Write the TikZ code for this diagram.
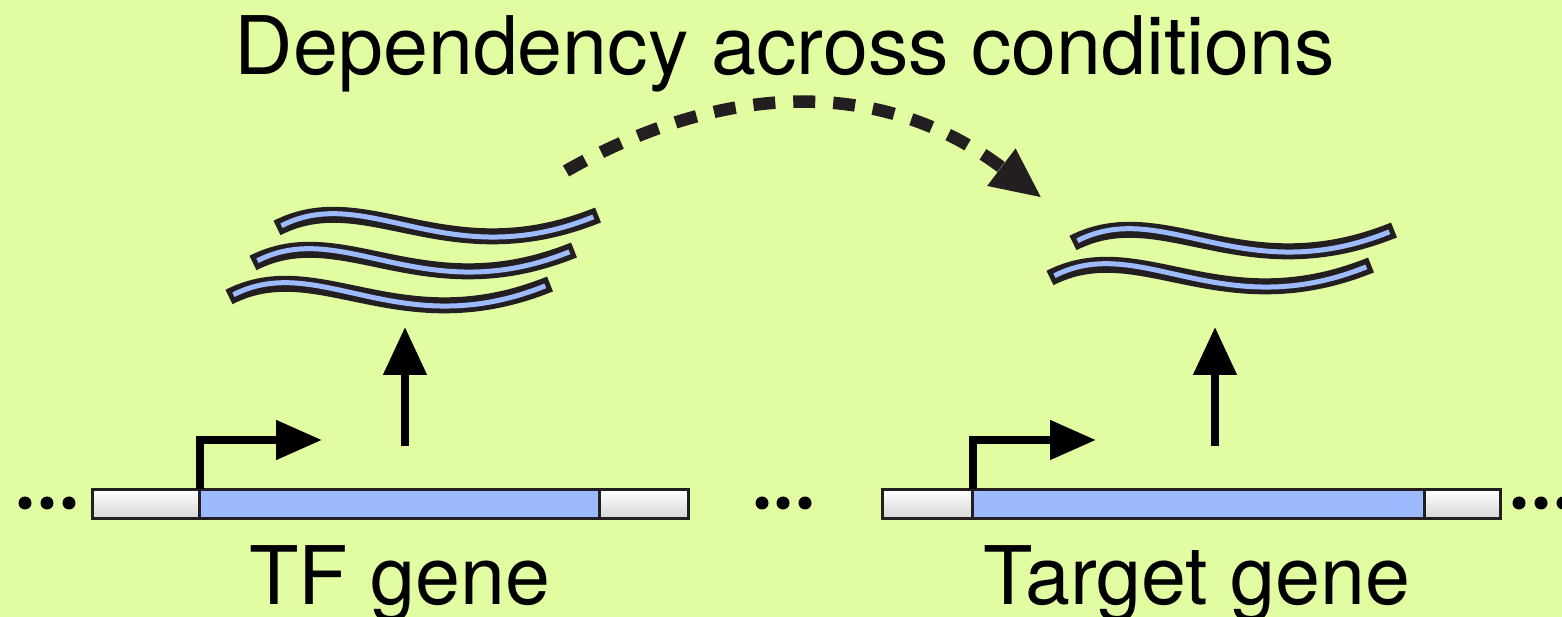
\documentclass[tikz,border=0pt]{standalone}
\usepackage{fontspec}
\setmainfont{TeX Gyre Heros}
\usetikzlibrary{positioning,arrows.meta}
\definecolor{bgcol}{RGB}{226,252,162}
\definecolor{cdscol}{RGB}{157,186,255}
\definecolor{inkcol}{RGB}{35,31,32}

\begin{document}
\begin{tikzpicture}[x=0.02cm,y=-0.02cm]
    \tikzstyle{label}=[inner sep=0pt,anchor=base,font=\fontsize{46}{50}\selectfont]
    \tikzstyle{exon}=[rectangle,draw=inkcol,line width=0.06cm,minimum height=0.58cm,inner sep=0pt,outer sep=0pt]
    \tikzstyle{utr}=[exon,top color=white,bottom color=black!16]
    \tikzstyle{cds}=[exon,fill=cdscol]
    \tikzstyle{promoter}=[line width=0.16cm,-{Triangle[length=0.92cm,width=0.76cm]}]
    \tikzstyle{expr}=[line width=0.16cm,-{Triangle[length=0.96cm,width=0.84cm]}]
    \tikzstyle{dep}=[draw=inkcol,line width=0.25cm,dash pattern=on 0.44cm off 0.36cm,
                     -{Triangle[length=1.02cm,width=0.86cm]}]
    \tikzstyle{rnaout}=[draw=inkcol,line width=0.32cm,line cap=butt]
    \tikzstyle{rnain}=[draw=cdscol,line width=0.1cm,line cap=butt,shorten <=0.1cm,shorten >=0.1cm]

    % background
    \fill[bgcol] (0,0) rectangle (1562,617);
    \useasboundingbox (0,0) rectangle (1562,617);

    \node(title) [label] at (785,75) {Dependency across conditions};

    % TF gene
    \node(tfL)  [utr,minimum width=2.16cm,anchor=west] at (92,504) {};
    \node(tfC)  [cds,minimum width=8cm,right=0pt of tfL] {};
    \node(tfR)  [utr,minimum width=1.78cm,right=0pt of tfC] {};
    \node(tfname) [label] at (400,605) {TF gene};

    % target gene
    \node(tgL)  [utr,minimum width=1.82cm,anchor=west] at (882,504) {};
    \node(tgC)  [cds,minimum width=9.04cm,right=0pt of tgL] {};
    \node(tgR)  [utr,minimum width=1.52cm,right=0pt of tgC] {};
    \node(tgname) [label] at (1197,605) {Target gene};

    % dots between and beside the genes
    \foreach \x in {25,47,69,762,783,805,1519,1541,1563}
        \fill (\x,503) circle (0.13cm);

    % transcription start sites
    \coordinate (tfTSS) at (322,440);
    \coordinate (tgTSS) at (1096,440);
    \draw [promoter] (tfL.north east) |- (tfTSS);
    \draw [promoter] (tgL.north east) |- (tgTSS);

    % transcripts
    \foreach \x/\y in {277/228,253/263,229/297,1073/243,1050/278} {
        \begin{scope}[shift={(\x,\y)}]
            \draw [rnaout] (0,0) .. controls (90,-46) and (170,48) .. (321,-13);
            \draw [rnain]  (0,0) .. controls (90,-46) and (170,48) .. (321,-13);
        \end{scope}
    }

    \coordinate (tfExpr) at (405,446);
    \coordinate (tfRna) at (405,327);
    \coordinate (tgExpr) at (1215,446);
    \coordinate (tgRna) at (1215,327);
    \draw [expr] (tfExpr) -- (tfRna);
    \draw [expr] (tgExpr) -- (tgRna);

    % dependency between the two transcript pools
    \coordinate (depA) at (566,171);
    \coordinate (depB) at (1042,198);
    \draw [dep] (depA) .. controls (690,100) and (860,60) .. (depB);

\end{tikzpicture}
\end{document}
